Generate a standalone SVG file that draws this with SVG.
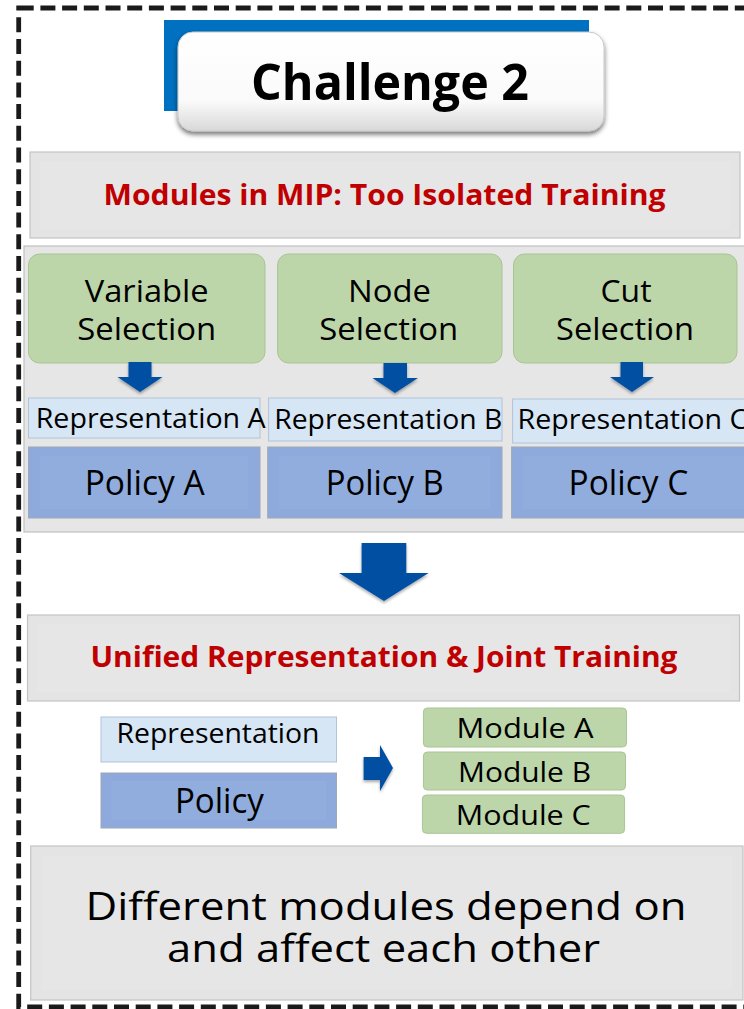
<svg xmlns="http://www.w3.org/2000/svg" width="744" height="1009" viewBox="0 0 744 1009">
  <style>
    text { font-family: "Open Sans", "Noto Sans", "DejaVu Sans", sans-serif; text-anchor: middle; fill: #000; }
    .title { font-size: 50px; font-weight: 700; }
    .head { font-size: 28px; font-weight: 700; fill: #C00000; }
    .sel { font-size: 31px; }
    .rep { font-size: 27px; }
    .pol { font-size: 34px; }
    .mod { font-size: 28px; }
    .big { font-size: 39px; }
    .panel { fill: #E4E4E4; stroke: #C4C4C4; stroke-width: 1.2; }
    .bevel { fill: #E6E6E6; stroke: none; }
    .green { fill: #BDD6A9; stroke: #A9C495; stroke-width: 1; }
    .repbox { fill: #D6E6F5; stroke: #B0C3D8; stroke-width: 1; }
    .polbox { fill: #8EAADC; stroke: #A0A8B4; stroke-width: 1; }
    .polin { fill: #91ADDE; }
    .arrow { fill: #0350A2; filter: url(#shadow); }
  </style>
  <defs>
    <linearGradient id="whiteBtn" x1="0" y1="0" x2="0" y2="1">
      <stop offset="0" stop-color="#FFFFFF"/>
      <stop offset="0.7" stop-color="#FAFAFA"/>
      <stop offset="1" stop-color="#D8D8D8"/>
    </linearGradient>
    <filter id="shadow" x="-30%" y="-30%" width="160%" height="170%">
      <feGaussianBlur in="SourceAlpha" stdDeviation="1.8"/>
      <feOffset dx="0" dy="2" result="b"/>
      <feComponentTransfer><feFuncA type="linear" slope="0.35"/></feComponentTransfer>
      <feMerge><feMergeNode/><feMergeNode in="SourceGraphic"/></feMerge>
    </filter>
    <filter id="btnShadow" x="-10%" y="-20%" width="120%" height="150%">
      <feGaussianBlur in="SourceAlpha" stdDeviation="2.5"/>
      <feOffset dx="0" dy="3" result="b"/>
      <feComponentTransfer><feFuncA type="linear" slope="0.55"/></feComponentTransfer>
      <feMerge><feMergeNode/><feMergeNode in="SourceGraphic"/></feMerge>
    </filter>
  </defs>

  <rect width="744" height="1009" fill="#FFFFFF"/>

  <!-- dashed frame, open to the right -->
  <rect id="frame" x="18.7" y="8" width="760" height="999" fill="none" stroke="#1A1A1A" stroke-width="4.8" stroke-dasharray="15 6.7"/>

  <!-- title -->
  <g id="title">
    <rect x="164" y="20" width="425" height="91" fill="#0070C0"/>
    <rect x="178" y="32" width="426" height="99" rx="15" fill="url(#whiteBtn)" stroke="#C8C8C8" stroke-width="1" filter="url(#btnShadow)"/>
    <text class="title" x="390" y="100" textLength="278" lengthAdjust="spacingAndGlyphs">Challenge 2</text>
  </g>

  <!-- heading 1 -->
  <g id="heading-isolated">
    <rect class="panel" x="30" y="152" width="710" height="86"/>
    <rect class="bevel" x="40" y="161" width="690" height="68"/>
    <text class="head" x="384.5" y="205" textLength="562" lengthAdjust="spacingAndGlyphs">Modules in MIP: Too Isolated Training</text>
  </g>

  <!-- panel holding the three separate pipelines -->
  <g id="panel-isolated">
    <rect x="24" y="246" width="740" height="286" fill="#E6E6E6" stroke="#C0C0C0" stroke-width="1.2"/>
  </g>

  <g id="variable-selection">
    <rect class="green" x="28.5" y="254" width="236.5" height="109" rx="11"/>
    <text class="sel" x="146.7" y="302" textLength="124" lengthAdjust="spacingAndGlyphs">Variable</text>
    <text class="sel" x="146.7" y="340" textLength="139" lengthAdjust="spacingAndGlyphs">Selection</text>
  </g>
  <g id="node-selection">
    <rect class="green" x="277.6" y="254" width="224.4" height="109" rx="11"/>
    <text class="sel" x="389.5" y="302" textLength="83" lengthAdjust="spacingAndGlyphs">Node</text>
    <text class="sel" x="388.7" y="340" textLength="139" lengthAdjust="spacingAndGlyphs">Selection</text>
  </g>
  <g id="cut-selection">
    <rect class="green" x="513.5" y="254" width="223.5" height="109" rx="11"/>
    <text class="sel" x="626" y="302" textLength="51" lengthAdjust="spacingAndGlyphs">Cut</text>
    <text class="sel" x="625" y="340" textLength="138" lengthAdjust="spacingAndGlyphs">Selection</text>
  </g>

  <g id="representation-a">
    <rect class="repbox" x="28.5" y="398" width="231.5" height="40"/>
    <text class="rep" x="150.7" y="428" textLength="230" lengthAdjust="spacingAndGlyphs">Representation A</text>
  </g>
  <g id="representation-b">
    <rect class="repbox" x="268.6" y="398" width="233.4" height="43"/>
    <text class="rep" x="388.2" y="428.5" textLength="228" lengthAdjust="spacingAndGlyphs">Representation B</text>
  </g>
  <g id="representation-c">
    <rect class="repbox" x="512.6" y="399" width="250" height="44"/>
    <text class="rep" x="632.5" y="428.5" textLength="230" lengthAdjust="spacingAndGlyphs">Representation C</text>
  </g>

  <g id="policy-a">
    <rect class="polbox" x="28.5" y="447" width="231.5" height="71"/>
    <rect class="polin" x="40" y="456" width="208" height="53"/>
    <text class="pol" x="144.7" y="495" textLength="120" lengthAdjust="spacingAndGlyphs">Policy A</text>
  </g>
  <g id="policy-b">
    <rect class="polbox" x="267.7" y="447" width="234.3" height="71"/>
    <rect class="polin" x="279" y="456" width="211" height="53"/>
    <text class="pol" x="384.7" y="495" textLength="118" lengthAdjust="spacingAndGlyphs">Policy B</text>
  </g>
  <g id="policy-c">
    <rect class="polbox" x="511.6" y="447" width="250" height="71"/>
    <rect class="polin" x="523" y="456" width="240" height="53"/>
    <text class="pol" x="628.4" y="495" textLength="119.6" lengthAdjust="spacingAndGlyphs">Policy C</text>
  </g>

  <!-- heading 2 -->
  <g id="heading-unified">
    <rect class="panel" x="27.5" y="615" width="712" height="86"/>
    <rect class="bevel" x="37" y="624" width="693" height="68"/>
    <text class="head" x="384" y="667" textLength="587" lengthAdjust="spacingAndGlyphs">Unified Representation &amp; Joint Training</text>
  </g>

  <g id="representation">
    <rect class="repbox" x="101" y="717" width="235.5" height="45"/>
    <text class="rep" x="218" y="743" textLength="203" lengthAdjust="spacingAndGlyphs">Representation</text>
  </g>
  <g id="policy">
    <rect class="polbox" x="101" y="773" width="235.5" height="55"/>
    <rect class="polin" x="111" y="781" width="215.5" height="39"/>
    <text class="pol" x="219.4" y="813" textLength="89" lengthAdjust="spacingAndGlyphs">Policy</text>
  </g>

  <g id="module-a">
    <rect class="green" x="423.4" y="708" width="203.1" height="39" rx="4"/>
    <text class="mod" x="525" y="738" textLength="137" lengthAdjust="spacingAndGlyphs">Module A</text>
  </g>
  <g id="module-b">
    <rect class="green" x="423.4" y="752" width="202.1" height="38" rx="4"/>
    <text class="mod" x="524.5" y="781.7" textLength="133" lengthAdjust="spacingAndGlyphs">Module B</text>
  </g>
  <g id="module-c">
    <rect class="green" x="422.4" y="795" width="202.2" height="38.3" rx="4"/>
    <text class="mod" x="523.3" y="825" textLength="135" lengthAdjust="spacingAndGlyphs">Module C</text>
  </g>

  <!-- conclusion -->
  <g id="conclusion">
    <rect class="panel" x="30.7" y="846" width="712.3" height="154"/>
    <rect class="bevel" x="42" y="856" width="690" height="134"/>
    <text class="big" x="386" y="920" textLength="601" lengthAdjust="spacingAndGlyphs">Different modules depend on</text>
    <text class="big" x="383.5" y="962" textLength="433" lengthAdjust="spacingAndGlyphs">and affect each other</text>
  </g>

  <!-- block arrows -->
  <g id="connectors">
    <polygon class="arrow" points="128.5,362 151.5,362 151.5,377 162.5,377 140,392 117.5,377 128.5,377"/>
    <polygon class="arrow" points="383.5,363 407,363 407,378 418,378 395,393 372.5,378 383.5,378"/>
    <polygon class="arrow" points="620.5,362 643,362 643,377 654,377 632,392 610,377 620.5,377"/>
    <polygon class="arrow" points="361.6,543 406.3,543 406.3,573 428.6,573 384,601 339,573 361.6,573"/>
    <polygon class="arrow" points="363.6,757 380,757 380,745 393,768 380,791 380,780 363.6,780"/>
  </g>
</svg>
